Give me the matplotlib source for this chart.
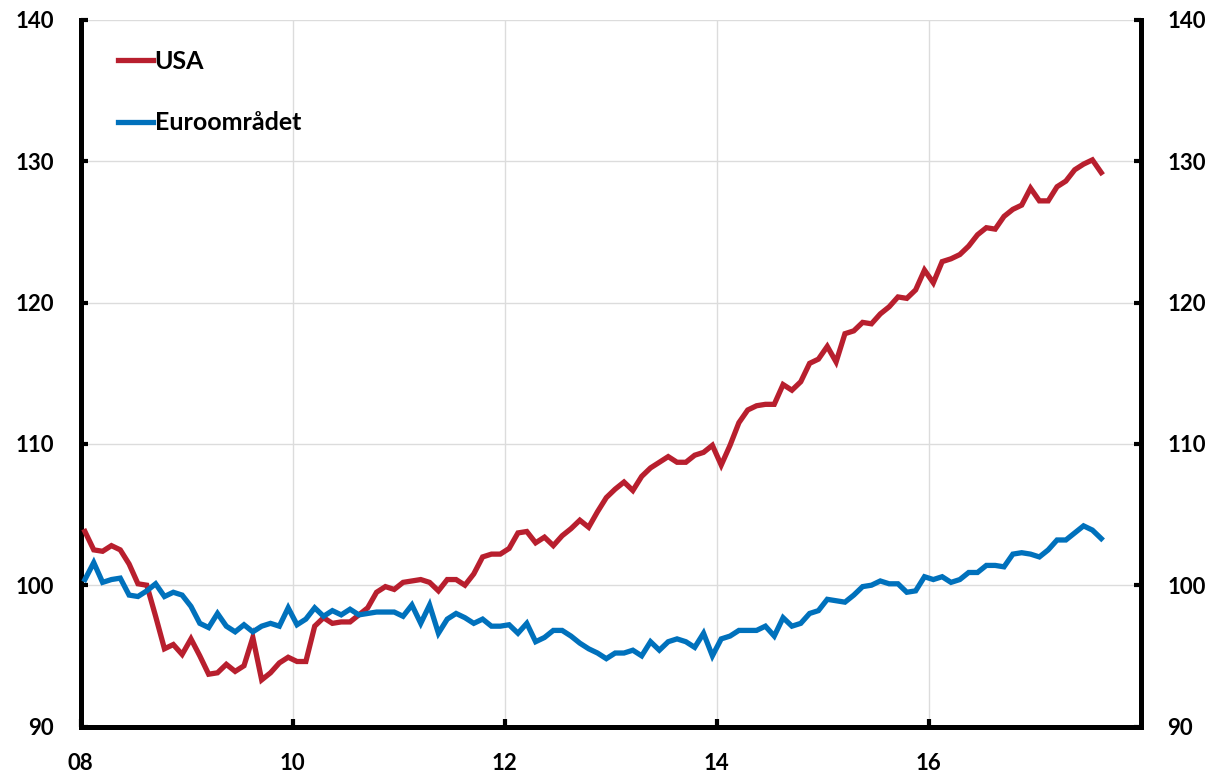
"""
Recreate the USA vs euro area index chart (monthly, 2008-2017).

Writes:
  out.png
"""

import matplotlib
matplotlib.use("Agg")
import matplotlib.pyplot as plt
import numpy as np

# ── Data (index, monthly from Jan 2008) ─────────────────────────────────────
START_YEAR = 2008

USA = [
    103.8, 102.5, 102.4, 102.8, 102.5, 101.5, 100.1, 100.0, 97.8, 95.5,
    95.8, 95.1, 96.2, 95.0, 93.7, 93.8, 94.4, 93.9, 94.3, 96.3,
    93.3, 93.8, 94.5, 94.9, 94.6, 94.6, 97.1, 97.7, 97.3, 97.4,
    97.4, 97.9, 98.4, 99.5, 99.9, 99.7, 100.2, 100.3, 100.4, 100.2,
    99.6, 100.4, 100.4, 100.0, 100.8, 102.0, 102.2, 102.2, 102.6, 103.7,
    103.8, 103.0, 103.4, 102.8, 103.5, 104.0, 104.6, 104.1, 105.2, 106.2,
    106.8, 107.3, 106.7, 107.7, 108.3, 108.7, 109.1, 108.7, 108.7, 109.2,
    109.4, 109.9, 108.5, 109.9, 111.5, 112.4, 112.7, 112.8, 112.8, 114.2,
    113.8, 114.4, 115.7, 116.0, 116.9, 115.8, 117.8, 118.0, 118.6, 118.5,
    119.2, 119.7, 120.4, 120.3, 120.9, 122.3, 121.4, 122.9, 123.1, 123.4,
    124.0, 124.8, 125.3, 125.2, 126.1, 126.6, 126.9, 128.1, 127.2, 127.2,
    128.2, 128.6, 129.4, 129.8, 130.1, 129.2,
]

EURO = [
    100.4, 101.6, 100.2, 100.4, 100.5, 99.3, 99.2, 99.6, 100.1, 99.2,
    99.5, 99.3, 98.5, 97.3, 97.0, 98.0, 97.1, 96.7, 97.2, 96.7,
    97.1, 97.3, 97.1, 98.4, 97.2, 97.6, 98.4, 97.8, 98.2, 97.9,
    98.3, 97.9, 98.0, 98.1, 98.1, 98.1, 97.8, 98.6, 97.3, 98.6,
    96.6, 97.6, 98.0, 97.7, 97.3, 97.6, 97.1, 97.1, 97.2, 96.6,
    97.3, 96.0, 96.3, 96.8, 96.8, 96.4, 95.9, 95.5, 95.2, 94.8,
    95.2, 95.2, 95.4, 95.0, 96.0, 95.4, 96.0, 96.2, 96.0, 95.6,
    96.6, 95.0, 96.2, 96.4, 96.8, 96.8, 96.8, 97.1, 96.4, 97.7,
    97.1, 97.3, 98.0, 98.2, 99.0, 98.9, 98.8, 99.3, 99.9, 100.0,
    100.3, 100.1, 100.1, 99.5, 99.6, 100.6, 100.4, 100.6, 100.2, 100.4,
    100.9, 100.9, 101.4, 101.4, 101.3, 102.2, 102.3, 102.2, 102.0, 102.5,
    103.2, 103.2, 103.7, 104.2, 103.9, 103.3,
]

SERIES_LABELS = ["USA", "Euroområdet"]
X_TICKS       = [2008, 2010, 2012, 2014, 2016]
X_TICKLABELS  = ["08", "10", "12", "14", "16"]
Y_TICKS       = [90, 100, 110, 120, 130, 140]

RED  = "#B81F2E"
BLUE = "#0071BC"

W, H = 1212, 775


def main() -> None:
    plt.rcParams["font.family"] = ["Lato", "DejaVu Sans"]
    plt.rcParams["font.weight"] = "bold"

    # mid-month positions in decimal years
    x = START_YEAR + (np.arange(len(USA)) + 0.5) / 12

    fig = plt.figure(figsize=(W / 100, H / 100), dpi=100)
    ax = fig.add_axes([80.5 / W, 1 - 726.5 / H, (1141 - 80.5) / W, (726.5 - 20) / H])

    ax.plot(x, USA, color=RED, linewidth=3.8, label=SERIES_LABELS[0],
            solid_joinstyle="miter", zorder=3)
    ax.plot(x, EURO, color=BLUE, linewidth=3.8, label=SERIES_LABELS[1],
            solid_joinstyle="miter", zorder=3)

    ax.set_xlim(2008, 2018)
    ax.set_ylim(90, 140)
    ax.set_xticks(X_TICKS)
    ax.set_xticklabels(X_TICKLABELS)
    ax.set_yticks(Y_TICKS)

    ax.grid(True, color="#DCDCDC", linewidth=1.0, zorder=0)
    ax.set_axisbelow(True)

    for side in ("left", "bottom", "right"):
        ax.spines[side].set_linewidth(3.6)
        ax.spines[side].set_color("black")
    ax.spines["top"].set_visible(False)

    ax.tick_params(axis="y", which="both", direction="in", length=5, width=3,
                   labelsize=16, left=True, right=True,
                   labelleft=True, labelright=True, pad=19)
    ax.tick_params(axis="x", direction="in", length=6, width=3,
                   labelsize=16, pad=19)
    for lbl in ax.get_xticklabels() + ax.get_yticklabels():
        lbl.set_fontweight("bold")

    leg = ax.legend(loc="upper left", bbox_to_anchor=(0.035, 0.958),
                    frameon=False, fontsize=18, handlelength=1.4,
                    handletextpad=0.08, labelspacing=1.55,
                    borderpad=0, borderaxespad=0)
    for txt in leg.get_texts():
        txt.set_fontweight("bold")

    fig.savefig("out.png", dpi=100)
    plt.close(fig)


if __name__ == "__main__":
    main()
